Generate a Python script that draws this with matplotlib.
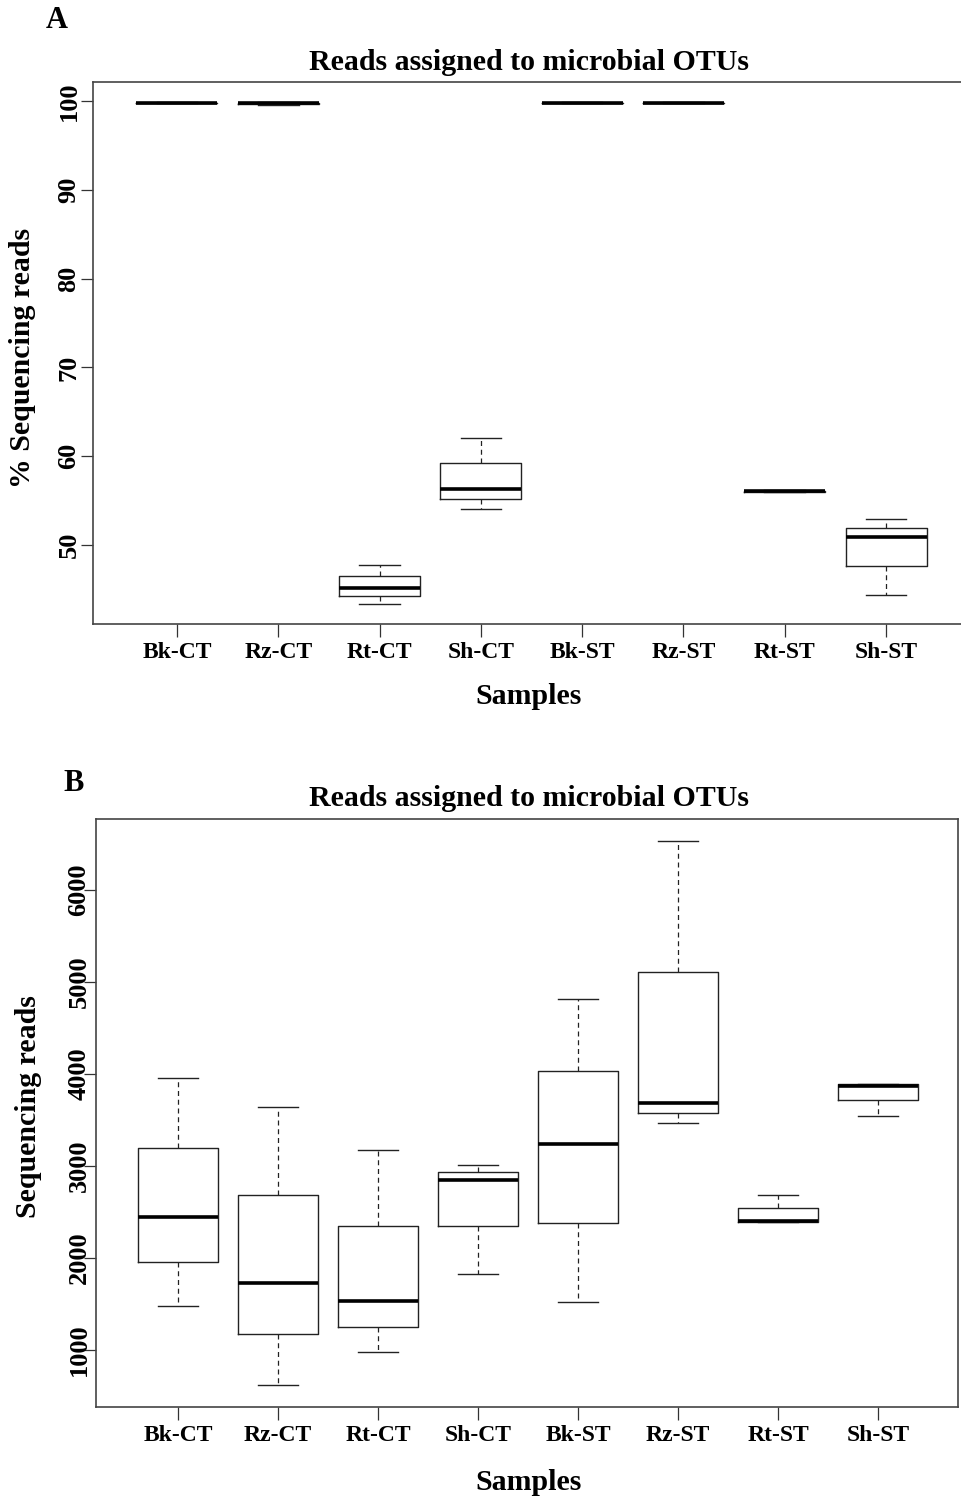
import matplotlib
matplotlib.use("Agg")
import matplotlib.pyplot as plt

# Sample groups (same order in both panels)
samples = ["Bk-CT", "Rz-CT", "Rt-CT", "Sh-CT", "Bk-ST", "Rz-ST", "Rt-ST", "Sh-ST"]

# Panel A: % of sequencing reads assigned to microbial OTUs (box stats)
pct_whislo = [99.75, 99.55, 43.4, 54.1, 99.75, 99.75, 55.95, 44.4]
pct_q1 = [99.78, 99.70, 44.2, 55.2, 99.78, 99.78, 56.00, 47.6]
pct_med = [99.80, 99.75, 45.2, 56.25, 99.80, 99.80, 56.05, 50.85]
pct_q3 = [99.82, 99.80, 46.5, 59.2, 99.82, 99.82, 56.12, 51.9]
pct_whishi = [99.85, 99.85, 47.8, 62.0, 99.85, 99.85, 56.20, 52.9]
pct_ticks = [50, 60, 70, 80, 90, 100]

# Panel B: number of sequencing reads assigned to microbial OTUs (box stats)
reads_whislo = [1470, 620, 975, 1825, 1515, 3465, 2390, 3545]
reads_q1 = [1950, 1175, 1250, 2345, 2380, 3570, 2390, 3715]
reads_med = [2445, 1725, 1530, 2845, 3240, 3685, 2400, 3870]
reads_q3 = [3190, 2685, 2345, 2935, 4030, 5105, 2545, 3885]
reads_whishi = [3950, 3640, 3170, 3005, 4815, 6530, 2685, 3885]
reads_ticks = [1000, 2000, 3000, 4000, 5000, 6000]

W, H = 961, 1499
FONT = "Liberation Serif"
LINE = "#222222"

fig = plt.figure(figsize=(W / 100, H / 100), dpi=100)


def axes_px(left, top, right, bottom):
    return fig.add_axes([left / W, 1 - bottom / H, (right - left) / W, (bottom - top) / H])


def draw_panel(ax, whislo, q1, med, q3, whishi, yticks, ylim, xlim, ypad):
    stats = []
    for i, name in enumerate(samples):
        stats.append(dict(label=name, whislo=whislo[i], q1=q1[i], med=med[i],
                          q3=q3[i], whishi=whishi[i], fliers=[]))
    ax.bxp(stats, positions=range(1, len(samples) + 1), widths=0.8, capwidths=0.4,
           showfliers=False,
           boxprops=dict(color=LINE, linewidth=1.0),
           medianprops=dict(color="black", linewidth=2.6, solid_capstyle="butt"),
           whiskerprops=dict(color=LINE, linewidth=0.9, linestyle=(0, (4, 3))),
           capprops=dict(color=LINE, linewidth=1.0))
    ax.set_xlim(*xlim)
    ax.set_ylim(*ylim)
    ax.set_yticks(yticks)
    ax.set_yticklabels([str(t) for t in yticks], rotation=90, va="center",
                       fontfamily=FONT, fontweight="bold", fontsize=19)
    ax.set_xticklabels(samples, fontfamily=FONT, fontweight="bold", fontsize=17)
    ax.tick_params(axis="both", direction="out", length=9, width=0.9, color="#333333")
    ax.tick_params(axis="y", pad=ypad)
    ax.tick_params(axis="x", pad=4)
    for sp in ax.spines.values():
        sp.set_color("#444444")
        sp.set_linewidth(1.2)


# Panel A
axA = axes_px(93, 82, 963, 624)
draw_panel(axA, pct_whislo, pct_q1, pct_med, pct_q3, pct_whishi,
           pct_ticks, (41.1, 102.14), (0.171, 8.76), 0)

# Panel B
axB = axes_px(96, 819, 958, 1407)
draw_panel(axB, reads_whislo, reads_q1, reads_med, reads_q3, reads_whishi,
           reads_ticks, (377, 6768), (0.18, 8.8), -5)

title = "Reads assigned to microbial OTUs"
txt = dict(fontfamily=FONT, fontweight="bold")


def fig_text(x, y, s, size, **kw):
    fig.text(x / W, 1 - y / H, s, fontsize=size, **txt, **kw)


fig_text(529, 70, title, 21.5, ha="center", va="baseline")
fig_text(529, 806, title, 21.5, ha="center", va="baseline")
fig_text(529, 704, "Samples", 21.5, ha="center", va="baseline")
fig_text(529, 1490, "Samples", 21.5, ha="center", va="baseline")
fig_text(23, 358, "% Sequencing reads", 21.5, ha="center", va="center", rotation=90)
fig_text(29, 1107, "Sequencing reads", 21.5, ha="center", va="center", rotation=90)
fig_text(57, 20, "A", 22, ha="center", va="center")
fig_text(74, 783, "B", 22, ha="center", va="center")

fig.savefig("out.png", dpi=100)
